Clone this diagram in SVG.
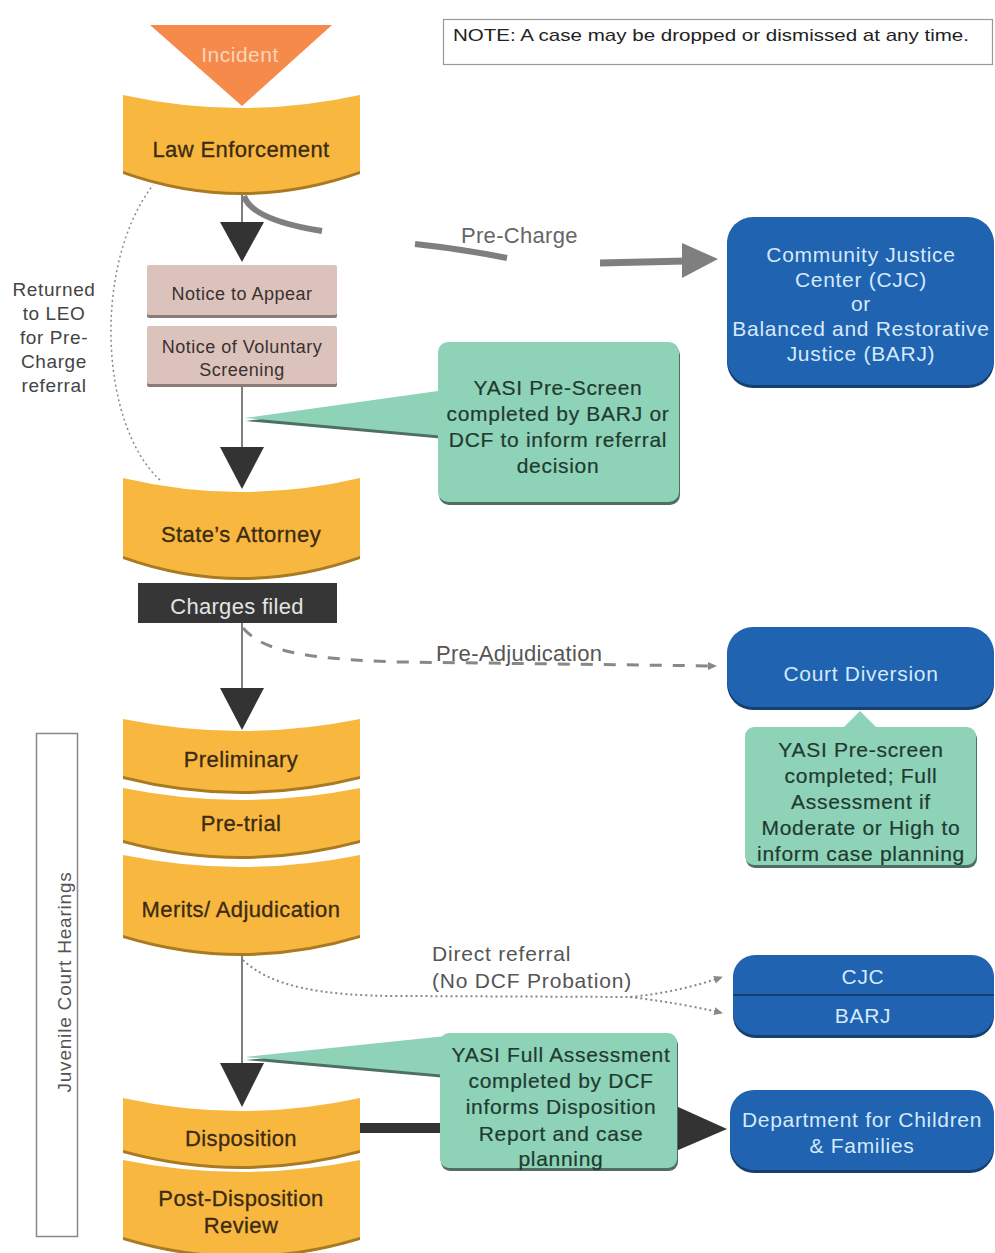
<svg xmlns="http://www.w3.org/2000/svg" width="995" height="1253" viewBox="0 0 995 1253">
<defs>
<style>
.t{font-family:"Liberation Sans",Arial,sans-serif;}
.band{fill:#F8B73E;}
.bandS{fill:#A87A22;}
.bt{font-size:22px;fill:#3B2A14;text-anchor:middle;letter-spacing:0.4px;stroke:#3B2A14;stroke-width:0.3px;}
.blue{fill:#1F63B1;}
.blueS{fill:#163F70;}
.bw{font-size:21px;fill:#D6E9FA;text-anchor:middle;letter-spacing:0.7px;}
.green{fill:#8ED2B8;}
.greenS{fill:#4E6F63;}
.gt{font-size:21px;fill:#1F3B30;text-anchor:middle;letter-spacing:0.7px;stroke:#1F3B30;stroke-width:0.2px;}
.notice{fill:#DBC3BC;}
.noticeS{fill:#8C7C77;}
.nt{font-size:18px;fill:#3A3030;text-anchor:middle;letter-spacing:0.5px;}
.ah{fill:#333;}
.vl{stroke:#555;stroke-width:1.5;fill:none;}
.lbl{font-size:21px;fill:#555;}
</style>
<marker id="smallArrow" markerWidth="10" markerHeight="10" refX="8" refY="5" orient="auto" markerUnits="userSpaceOnUse">
<path d="M0,1 L9,5 L0,9 Z" fill="#888"/>
</marker>
</defs>
<rect width="995" height="1253" fill="#ffffff"/>

<g id="note">
<rect x="443.500" y="19.500" width="549" height="45" fill="#fff" stroke="#999" stroke-width="1.2"/>
<text class="t" x="453" y="41" font-size="17" fill="#222" textLength="516" lengthAdjust="spacingAndGlyphs">NOTE: A case may be dropped or dismissed at any time.</text>
</g>

<g id="connectors">
<line class="vl" x1="242" y1="190" x2="242" y2="224"/>
<polygon class="ah" points="220,222 264,222 242,262"/>
<line class="vl" x1="242" y1="385" x2="242" y2="449"/>
<polygon class="ah" points="220,447 264,447 242,489"/>
<line class="vl" x1="242" y1="623" x2="242" y2="690"/>
<polygon class="ah" points="220,688 264,688 242,730"/>
<line class="vl" x1="242" y1="953" x2="242" y2="1065"/>
<polygon class="ah" points="220,1063 264,1063 242,1107"/>
<!-- pre-charge -->
<path d="M244,196 Q252,220 322,231" fill="none" stroke="#7F7F7F" stroke-width="6"/>
<path d="M415,244 Q462,249 507,258" fill="none" stroke="#7F7F7F" stroke-width="6"/>
<path d="M600,263 L686,261" fill="none" stroke="#7F7F7F" stroke-width="7"/>
<polygon points="682,243 718,259 682,278" fill="#7F7F7F"/>
<text class="t" x="461" y="243" font-size="22" fill="#666" letter-spacing="0.3">Pre-Charge</text>
<!-- returned to LEO -->
<path d="M160,480 C100,425 92,265 153,185" fill="none" stroke="#888" stroke-width="1.5" stroke-dasharray="2,3"/>
<!-- pre-adjudication -->
<path d="M243,628 C262,650 300,659 400,662 L716,666" fill="none" stroke="#888" stroke-width="3" stroke-dasharray="12,11" marker-end="url(#smallArrow)"/>
<text class="t" x="436" y="661" font-size="22" fill="#555" letter-spacing="0.3">Pre-Adjudication</text>
<!-- direct referral -->
<path d="M243,960 C270,986 320,996 400,996 L630,997 Q680,992 722,977" fill="none" stroke="#888" stroke-width="2" stroke-dasharray="2,3" marker-end="url(#smallArrow)"/>
<path d="M630,997 Q680,1003 722,1013" fill="none" stroke="#888" stroke-width="2" stroke-dasharray="2,3" marker-end="url(#smallArrow)"/>
<text class="t" x="432" y="961" font-size="21" fill="#555" letter-spacing="0.8">Direct referral</text>
<text class="t" x="432" y="988" font-size="21" fill="#555" letter-spacing="0.8">(No DCF Probation)</text>
<!-- to DCF -->
<line x1="358" y1="1128" x2="682" y2="1128" stroke="#333" stroke-width="10"/>
<polygon points="676,1106 727,1129 676,1151" fill="#333"/>
</g>

<g id="returned-label">
<text class="t" font-size="19" fill="#444" text-anchor="middle" letter-spacing="0.6"><tspan x="54" y="296">Returned</tspan><tspan x="54" y="320">to LEO</tspan><tspan x="54" y="344">for Pre-</tspan><tspan x="54" y="368">Charge</tspan><tspan x="54" y="392">referral</tspan></text>
</g>

<g id="incident">
<polygon points="150,25 332,25 242,106" fill="#F58A4B"/>
<text class="t" x="240" y="62" font-size="21" fill="#FCD5BD" text-anchor="middle" letter-spacing="0.5">Incident</text>
</g>

<g id="law-enforcement">
<path class="bandS" d="M123,98 Q241,124 360,98 L360,174 Q241,216 123,174 Z"/>
<path class="band" d="M123,95 Q241,121 360,95 L360,171 Q241,213 123,171 Z"/>
<text class="t bt" x="241" y="157" font-size="23">Law Enforcement</text>
</g>

<g id="notice-to-appear">
<rect class="noticeS" x="147" y="268" width="190" height="50" rx="2"/>
<rect class="notice" x="147" y="265" width="190" height="50" rx="2"/>
<text class="t nt" x="242" y="300">Notice to Appear</text>
</g>

<g id="notice-voluntary">
<rect class="noticeS" x="147" y="329" width="190" height="58" rx="2"/>
<rect class="notice" x="147" y="326" width="190" height="58" rx="2"/>
<text class="t nt" x="242" y="353">Notice of Voluntary</text>
<text class="t nt" x="242" y="376">Screening</text>
</g>

<g id="callout-prescreen">
<g transform="translate(1,3)">
<rect class="greenS" x="438" y="342" width="241" height="160" rx="10"/>
<polygon class="greenS" points="245,418 445,390 445,436"/>
</g>
<rect class="green" x="438" y="342" width="241" height="160" rx="10"/>
<polygon class="green" points="245,418 445,390 445,436"/>
<text class="t gt" x="558" y="395">YASI Pre-Screen</text>
<text class="t gt" x="558" y="421">completed by BARJ or</text>
<text class="t gt" x="558" y="447">DCF to inform referral</text>
<text class="t gt" x="558" y="473">decision</text>
</g>

<g id="cjc-barj-top">
<rect class="blueS" x="727" y="220" width="267" height="168" rx="26"/>
<rect class="blue" x="727" y="217" width="267" height="168" rx="26"/>
<text class="t bw" x="861" y="262">Community Justice</text>
<text class="t bw" x="861" y="287">Center (CJC)</text>
<text class="t bw" x="861" y="311">or</text>
<text class="t bw" x="861" y="336">Balanced and Restorative</text>
<text class="t bw" x="861" y="361">Justice (BARJ)</text>
</g>

<g id="states-attorney">
<path class="bandS" d="M123,481 Q241,509 360,481 L360,559 Q241,601 123,559 Z"/>
<path class="band" d="M123,478 Q241,506 360,478 L360,556 Q241,598 123,556 Z"/>
<text class="t bt" x="241" y="542">State’s Attorney</text>
</g>

<g id="charges-filed">
<rect x="138" y="583" width="199" height="40" fill="#363636"/>
<text class="t" x="237" y="614" font-size="22" fill="#E4E4E4" text-anchor="middle" letter-spacing="0.3">Charges filed</text>
</g>

<g id="court-diversion">
<rect class="blueS" x="727" y="630" width="267" height="80" rx="26"/>
<rect class="blue" x="727" y="627" width="267" height="80" rx="26"/>
<text class="t bw" x="861" y="681" font-size="22">Court Diversion</text>
</g>

<g id="callout-diversion">
<g transform="translate(1,3)">
<rect class="greenS" x="745" y="727" width="231" height="138" rx="9"/>
</g>
<rect class="green" x="745" y="727" width="231" height="138" rx="9"/>
<polygon class="green" points="843,728 860,711 877,728"/>
<text class="t gt" x="861" y="757">YASI Pre-screen</text>
<text class="t gt" x="861" y="783">completed; Full</text>
<text class="t gt" x="861" y="809">Assessment if</text>
<text class="t gt" x="861" y="835">Moderate or High to</text>
<text class="t gt" x="861" y="861">inform case planning</text>
</g>

<g id="juvenile-court-hearings">
<rect x="36.500" y="733.500" width="41" height="503" fill="none" stroke="#888" stroke-width="1.5"/>
<text class="t" transform="translate(71,982) rotate(-90)" font-size="19" fill="#555" text-anchor="middle" letter-spacing="0.8">Juvenile Court Hearings</text>
</g>

<g id="preliminary">
<path class="bandS" d="M123,722 Q241,746 360,722 L360,779 Q241,809 123,779 Z"/>
<path class="band" d="M123,719 Q241,743 360,719 L360,776 Q241,806 123,776 Z"/>
<text class="t bt" x="241" y="767">Preliminary</text>
</g>

<g id="pre-trial">
<path class="bandS" d="M123,791 Q241,815 360,791 L360,843 Q241,875 123,843 Z"/>
<path class="band" d="M123,788 Q241,812 360,788 L360,840 Q241,872 123,840 Z"/>
<text class="t bt" x="241" y="831">Pre-trial</text>
</g>

<g id="merits">
<path class="bandS" d="M123,858 Q241,882 360,858 L360,938 Q241,974 123,938 Z"/>
<path class="band" d="M123,855 Q241,879 360,855 L360,935 Q241,971 123,935 Z"/>
<text class="t bt" x="241" y="917">Merits/ Adjudication</text>
</g>

<g id="cjc-barj">
<rect class="blueS" x="733" y="958" width="261" height="80" rx="22"/>
<rect class="blue" x="733" y="955" width="261" height="80" rx="22"/>
<line x1="733" y1="995" x2="994" y2="995" stroke="#173F6E" stroke-width="2"/>
<text class="t bw" x="863" y="984">CJC</text>
<text class="t bw" x="863" y="1023">BARJ</text>
</g>

<g id="disposition">
<path class="bandS" d="M123,1101 Q241,1127 360,1101 L360,1153 Q241,1185 123,1153 Z"/>
<path class="band" d="M123,1098 Q241,1124 360,1098 L360,1150 Q241,1182 123,1150 Z"/>
<text class="t bt" x="241" y="1146">Disposition</text>
</g>

<g id="post-disposition">
<path class="bandS" d="M123,1163 Q241,1187 360,1163 L360,1240 Q241,1276 123,1240 Z"/>
<path class="band" d="M123,1160 Q241,1184 360,1160 L360,1237 Q241,1273 123,1237 Z"/>
<text class="t bt" x="241" y="1206">Post-Disposition</text>
<text class="t bt" x="241" y="1233">Review</text>
</g>

<g id="callout-full-assessment">
<g transform="translate(1,3)">
<rect class="greenS" x="440" y="1033" width="237" height="135" rx="9"/>
<polygon class="greenS" points="245,1057 446,1036 446,1075"/>
</g>
<rect class="green" x="440" y="1033" width="237" height="135" rx="9"/>
<polygon class="green" points="245,1057 446,1036 446,1075"/>
<text class="t gt" x="561" y="1062">YASI Full Assessment</text>
<text class="t gt" x="561" y="1088">completed by DCF</text>
<text class="t gt" x="561" y="1114">informs Disposition</text>
<text class="t gt" x="561" y="1141">Report and case</text>
<text class="t gt" x="561" y="1166">planning</text>
</g>

<g id="dcf">
<rect class="blueS" x="730" y="1093" width="264" height="80" rx="24"/>
<rect class="blue" x="730" y="1090" width="264" height="80" rx="24"/>
<text class="t bw" x="862" y="1127">Department for Children</text>
<text class="t bw" x="862" y="1153">&amp; Families</text>
</g>
</svg>
